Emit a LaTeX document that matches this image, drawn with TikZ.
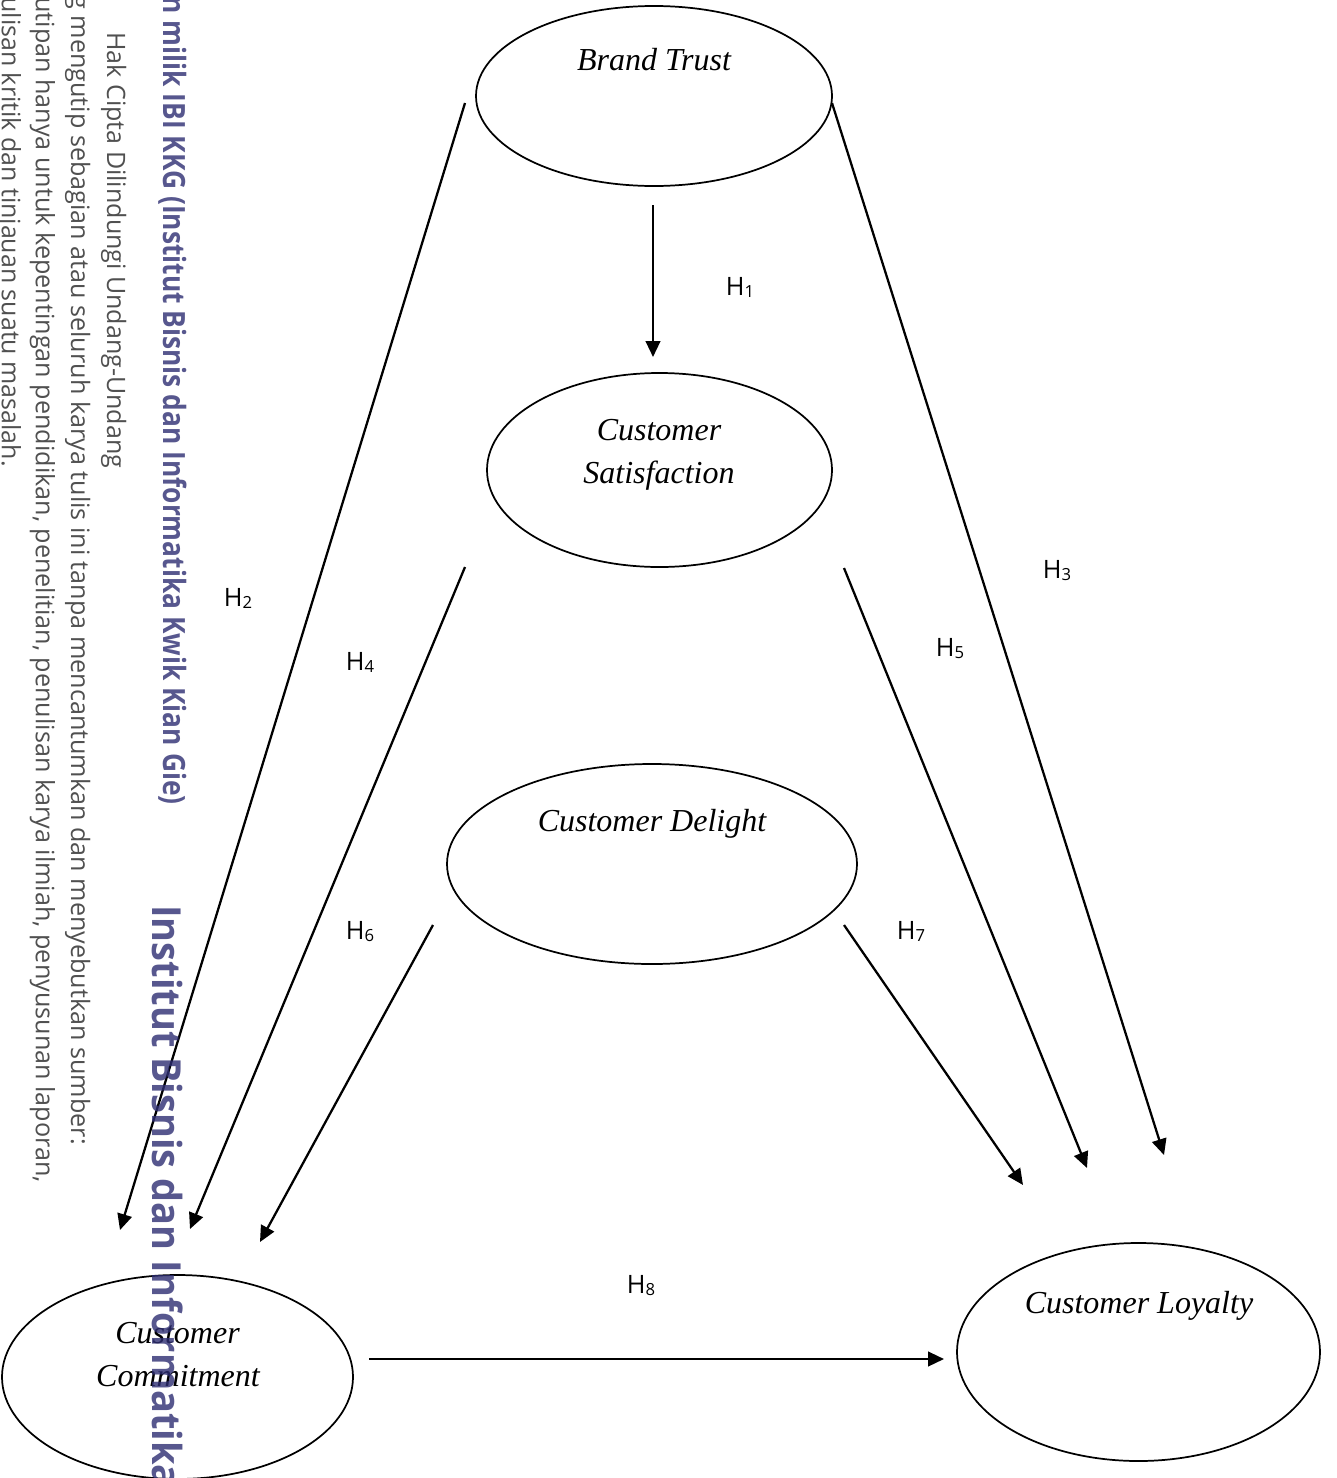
\documentclass[tikz,border=0pt]{standalone}
\usepackage{fontspec}
\setmainfont{Liberation Serif}
\newfontfamily\osans{Open Sans}
\usetikzlibrary{arrows.meta,shapes.geometric}
\def\PX{0.75pt}
\definecolor{wmpurple}{RGB}{46,46,114}
\definecolor{wmgray}{RGB}{80,80,80}
\tikzset{
  latent/.style={draw, ellipse, line width=1.3pt, inner sep=0pt},
  vname/.style={font=\fontsize{24}{28}\selectfont\itshape, inner sep=0pt, anchor=base},
  hlbl/.style={font=\osans\fontsize{19}{22}\selectfont, inner sep=0pt, anchor=base},
  hyp/.style={line width=1.7pt, -{Triangle[length=12pt,width=11pt]}},
  wmg/.style={font=\osans\fontsize{19}{23}\selectfont, text=wmgray, inner sep=0pt, rotate=-90},
  wmp/.style={font=\osans\bfseries\fontsize{23}{28}\selectfont, text=wmpurple, text opacity=0.8, inner sep=0pt, rotate=-90},
  wmbig/.style={font=\osans\bfseries\fontsize{30}{36}\selectfont, text=wmpurple, text opacity=0.8, inner sep=0pt, rotate=-90},
}
\newcommand\Hs[1]{H\raisebox{-1.5pt}{\fontsize{12.5}{14}\selectfont #1}}
\begin{document}
\begin{tikzpicture}[x=0.75pt, y=-0.75pt]
\useasboundingbox (0,0) rectangle (1337,1478);
\fill[white] (0,0) rectangle (1337,1478);

% constructs
\node[latent, minimum width=356*\PX, minimum height=180*\PX] (bt) at (654,96) {};
\node[latent, minimum width=345*\PX, minimum height=194*\PX] (cs) at (659.5,470) {};
\node[latent, minimum width=410*\PX, minimum height=200*\PX] (cd) at (652,864) {};
\node[latent, minimum width=351*\PX, minimum height=204*\PX] (cc) at (177.5,1377) {};
\node[latent, minimum width=363*\PX, minimum height=218*\PX] (cl) at (1138.5,1352) {};

\node[vname] (bt-t) at (654,70) {Brand Trust};
\node[vname] (cs-t1) at (659,440) {Customer};
\node[vname] (cs-t2) at (659,483) {Satisfaction};
\node[vname] (cd-t) at (652,831) {Customer Delight};
\node[vname] (cc-t1) at (177.5,1343) {Customer};
\node[vname] (cc-t2) at (178,1386) {Commitment};
\node[vname] (cl-t) at (1139,1313) {Customer Loyalty};

% connector end points
\coordinate (h1s) at (653,205);  \coordinate (h1e) at (653,357);
\coordinate (h2s) at (465,103);  \coordinate (h2e) at (120,1230);
\coordinate (h3s) at (832,103);  \coordinate (h3e) at (1164,1155);
\coordinate (h4s) at (465,567);  \coordinate (h4e) at (190,1229);
\coordinate (h5s) at (844,568);  \coordinate (h5e) at (1087,1168);
\coordinate (h6s) at (433,925);  \coordinate (h6e) at (260,1242);
\coordinate (h7s) at (844,925);  \coordinate (h7e) at (1023,1185);
\coordinate (h8s) at (369,1359); \coordinate (h8e) at (944,1359);

\draw[hyp] (h1s) -- (h1e);
\draw[hyp] (h2s) -- (h2e);
\draw[hyp] (h3s) -- (h3e);
\draw[hyp] (h4s) -- (h4e);
\draw[hyp] (h5s) -- (h5e);
\draw[hyp] (h6s) -- (h6e);
\draw[hyp] (h7s) -- (h7e);
\draw[hyp] (h8s) -- (h8e);

% hypothesis labels
\node[hlbl] (l1) at (740,295) {\Hs{1}};
\node[hlbl] (l2) at (238,606) {\Hs{2}};
\node[hlbl] (l3) at (1057,578) {\Hs{3}};
\node[hlbl] (l4) at (360,670) {\Hs{4}};
\node[hlbl] (l5) at (950,656) {\Hs{5}};
\node[hlbl] (l6) at (360,939) {\Hs{6}};
\node[hlbl] (l7) at (911,939) {\Hs{7}};
\node[hlbl] (l8) at (641,1293) {\Hs{8}};

% watermark
\begin{scope}
\clip (0,0) rectangle (1337,1478);
\node[wmg, anchor=base west] (wm1) at (107,32) {\resizebox{327pt}{\height}{Hak Cipta Dilindungi Undang-Undang}};
\node[wmg, anchor=base east] (wm2) at (71,1145) {\resizebox{862pt}{\height}{g mengutip sebagian atau seluruh karya tulis ini tanpa mencantumkan dan menyebutkan sumber:}};
\node[wmg, anchor=base east] (wm3) at (36,1183) {\resizebox{889pt}{\height}{utipan hanya untuk kepentingan pendidikan, penelitian, penulisan karya ilmiah, penyusunan laporan,}};
\node[wmg, anchor=base east] (wm4) at (2,467) {\resizebox{352pt}{\height}{ulisan kritik dan tinjauan suatu masalah.}};
\node[wmp, anchor=base east] (wm5) at (163,805) {\resizebox{606pt}{\height}{n milik IBI KKG (Institut Bisnis dan Informatika Kwik Kian Gie)}};
\node[wmbig, anchor=base west] (wm6) at (152,905) {\resizebox{437pt}{\height}{Institut Bisnis dan Informatika}};
\end{scope}
\end{tikzpicture}
\end{document}
